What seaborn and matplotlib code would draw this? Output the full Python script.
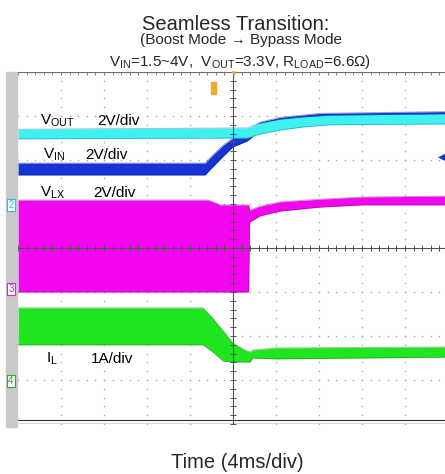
import matplotlib
matplotlib.use('Agg')
import matplotlib.pyplot as plt
import seaborn as sns
import numpy as np
from matplotlib.patches import Rectangle

# scope capture, time in ms (4 ms/div, 10 div), amplitude in divisions (8 div)
t_out = [-20, 1.3, 2.5, 4.4, 6.5, 9.0, 19.7]
vout_hi = [2.70, 2.73, 2.84, 2.93, 2.98, 3.02, 3.05]
vout_lo = [2.48, 2.50, 2.59, 2.68, 2.75, 2.80, 2.82]

t_in = [-20, -2.6, -1.9, -0.9, 0.0, 1.3, 2.5, 4.4, 8.1, 19.7]
vin_hi = [1.93, 1.93, 2.11, 2.34, 2.50, 2.61, 2.86, 2.97, 3.06, 3.10]
vin_lo = [1.66, 1.66, 1.84, 2.09, 2.30, 2.43, 2.66, 2.82, 2.93, 2.98]

t_lx = [-20, -2.3, -1.2, 1.45, 1.55, 2.5, 4.4, 8.1, 12.0, 19.7]
vlx_hi = [1.09, 1.09, 0.98, 0.98, 0.86, 0.95, 1.05, 1.11, 1.16, 1.18]
vlx_lo = [-1.00, -1.00, -1.00, -1.00, 0.59, 0.73, 0.84, 0.93, 0.98, 0.98]

t_il = [-20, -2.8, -1.9, -0.9, 0.0, 1.1, 1.6, 1.8, 4.0, 19.7]
il_hi = [-1.36, -1.36, -1.59, -1.89, -2.16, -2.32, -2.36, -2.32, -2.27, -2.25]
il_lo = [-2.20, -2.20, -2.36, -2.57, -2.59, -2.59, -2.59, -2.50, -2.52, -2.48]

sns.set_theme(style='white')
plt.rcParams['font.family'] = ['Liberation Sans', 'DejaVu Sans']
plt.rcParams['mathtext.fontset'] = 'custom'
plt.rcParams['mathtext.rm'] = 'Liberation Sans'

W, H = 445, 474
fig = plt.figure(figsize=(W / 100, H / 100), dpi=100)
ax = fig.add_axes([18 / W, 50 / H, 430 / W, 352 / H])
ax.set_xlim(-20, 20)
ax.set_ylim(-4, 4)
ax.set_xticks([])
ax.set_yticks([])
for s in ax.spines.values():
    s.set_visible(False)

# left gray strip of the scope screen
fig.patches.append(Rectangle((6 / W, 1 - 427 / H), 11 / W, 355 / H,
                             transform=fig.transFigure, color='#c9c9c9', zorder=0))

# dotted graticule
dot_y = np.arange(-4, 4.01, 0.2)
dot_x = np.arange(-20, 20.01, 0.8)
for gx in range(-16, 20, 4):
    if gx != 0:
        ax.plot([gx] * len(dot_y), dot_y, ls='none', marker='s', ms=1.0,
                color='#aaaaaa', mew=0, zorder=1)
for gy in range(-3, 4):
    if gy != 0:
        ax.plot(dot_x, [gy] * len(dot_x), ls='none', marker='s', ms=1.0,
                color='#aaaaaa', mew=0, zorder=1)

# traces, each one drawn above the previous
traces = [
    (t_in, vin_lo, vin_hi, '#1634d6', '#0a1a80'),
    (t_out, vout_lo, vout_hi, '#3ef2f2', '#1c6f8a'),
    (t_lx, vlx_lo, vlx_hi, '#f206f0', '#6e1a66'),
    (t_il, il_lo, il_hi, '#20e620', '#1f6a1f'),
]
for i, (t, lo, hi, col, edge) in enumerate(traces):
    z = 2 + i * 0.1
    ax.fill_between(t, lo, hi, color=col, lw=0, zorder=z)
    sns.lineplot(x=t, y=hi, ax=ax, color=edge, lw=0.6, alpha=0.45, zorder=z + 0.05)
    sns.lineplot(x=t, y=lo, ax=ax, color=edge, lw=0.6, alpha=0.45, zorder=z + 0.05)

# center lines with minor ticks
ax.axhline(0, color='#505050', lw=0.8, zorder=4)
ax.axvline(0, color='#505050', lw=0.8, zorder=4)
ax.plot(dot_x, [0] * len(dot_x), ls='none', marker='|', ms=4,
        color='#505050', mew=0.7, zorder=4)
ax.plot([0] * len(dot_y), dot_y, ls='none', marker='_', ms=4,
        color='#505050', mew=0.7, zorder=4)
# top and bottom borders
ax.axhline(4, color='#707070', lw=0.8, zorder=4)
ax.plot(dot_x, [3.97] * len(dot_x), ls='none', marker='|', ms=3,
        color='#707070', mew=0.6, zorder=4)
ax.axhline(-3.99, color='#303030', lw=1.0, zorder=4)
ax.axhline(-3.92, color='#303030', lw=0.8, zorder=4)


def fx(px):
    return px / W


def fy(py):
    return 1 - py / H


# trigger markers
fig.text(fx(233), fy(74), '\u25BC', color='#f0a020', fontsize=6, ha='center', va='center')
fig.patches.append(Rectangle((fx(211), fy(94)), 5 / W, 12 / H,
                             transform=fig.transFigure, color='#f0a830', zorder=5))
fig.text(fx(442), fy(157), '\u25C0', color='#1634d6', fontsize=7, ha='center', va='center')

# channel markers
for num, py, col in [('2', 205, '#18c8e0'), ('3', 289, '#e020e0'), ('4', 381, '#20b020')]:
    fig.text(fx(11), fy(py), num, color=col, fontsize=7, ha='center', va='center',
             bbox=dict(boxstyle='square,pad=0.12', fc='white', ec=col, lw=0.8))

# channel labels
lab = dict(fontsize=11, color='black', ha='left', va='baseline')
fig.text(fx(40), fy(125), r'$\mathregular{V_{OUT}}$', **lab)
fig.text(fx(97), fy(125), '2V/div', **lab)
fig.text(fx(43), fy(159), r'$\mathregular{V_{IN}}$', **lab)
fig.text(fx(85), fy(159), '2V/div', **lab)
fig.text(fx(40), fy(197), r'$\mathregular{V_{LX}}$', **lab)
fig.text(fx(93), fy(197), '2V/div', **lab)
fig.text(fx(46), fy(363), r'$\mathregular{I_{L}}$', **lab)
fig.text(fx(91), fy(363), '1A/div', **lab)

# titles
fig.text(fx(236), fy(30), 'Seamless Transition:', fontsize=14.5, ha='center', va='baseline')
fig.text(fx(241), fy(44), '(Boost Mode \u2192 Bypass Mode', fontsize=11, ha='center', va='baseline')
fig.text(fx(240), fy(66),
         r'$\mathregular{V_{IN}}$=1.5~4V,  $\mathregular{V_{OUT}}$=3.3V, '
         r'$\mathregular{R_{LOAD}}$=6.6Ω)',
         fontsize=11, ha='center', va='baseline')
fig.text(fx(237), fy(468), 'Time (4ms/div)', fontsize=14.5, ha='center', va='baseline')

fig.savefig('out.png', dpi=100)
